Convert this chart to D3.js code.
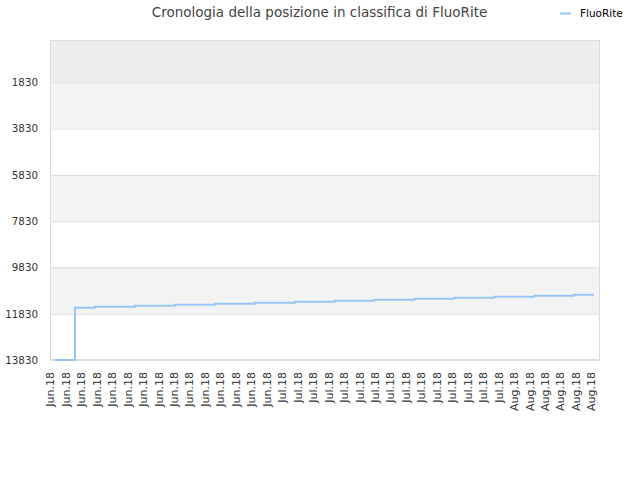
<!DOCTYPE html>
<html><head><meta charset="utf-8">
<script src="https://cdn.jsdelivr.net/npm/d3@7"></script>
<style>body{margin:0;background:#fff}svg{display:block}text{font-family:"DejaVu Sans",sans-serif}</style>
</head><body>
<script>
const title = "Cronologia della posizione in classifica di FluoRite";
const seriesName = "FluoRite";
const xLabels = [
  "Jun.18","Jun.18","Jun.18","Jun.18","Jun.18","Jun.18","Jun.18","Jun.18","Jun.18","Jun.18",
  "Jun.18","Jun.18","Jun.18","Jun.18","Jun.18",
  "Jul.18","Jul.18","Jul.18","Jul.18","Jul.18","Jul.18","Jul.18","Jul.18","Jul.18","Jul.18",
  "Jul.18","Jul.18","Jul.18","Jul.18","Jul.18",
  "Aug.18","Aug.18","Aug.18","Aug.18","Aug.18","Aug.18"
];
const yTicks = [1830, 3830, 5830, 7830, 9830, 11830, 13830];
const rankValues = [
  13830, 11570, 11527, 11527, 11484, 11484, 11441, 11441, 11398, 11398,
  11355, 11355, 11311, 11311, 11268, 11268, 11225, 11225, 11182, 11182,
  11139, 11139, 11096, 11096, 11052, 11052, 11009, 11009
];

const W = 640, H = 480;
const L = 50, R = 600, T = 40, B = 360;
const svg = d3.select("body").append("svg").attr("width", W).attr("height", H);

const y = d3.scaleLinear().domain([1, 13830]).range([T, B]);
const xData = d3.scaleLinear().domain([0, rankValues.length - 1]).range([55, 594]);
const xLab = d3.scalePoint().domain(d3.range(xLabels.length)).range([50, 591]);

// bands
const bandEdges = [T].concat(yTicks.map(v => y(v)));
for (let i = 0; i < bandEdges.length - 1; i++) {
  let fill = i === 0 ? "#eeeeee" : (i % 2 === 1 ? "#f3f3f3" : "#ffffff");
  svg.append("rect").attr("x", L).attr("y", bandEdges[i]).attr("width", R - L)
     .attr("height", bandEdges[i + 1] - bandEdges[i]).attr("fill", fill);
}
// grid lines
const yAxis = d3.axisLeft(y).tickValues(yTicks).tickSize(-(R - L)).tickPadding(12).tickFormat(d3.format("d"));
const gy = svg.append("g").attr("transform", `translate(${L},0)`).call(yAxis);
gy.select(".domain").remove();
gy.selectAll("line").attr("stroke", "#dcdcdc");
gy.selectAll("text").attr("fill", "#333").style("font-size", "10.3px");

// border
svg.append("rect").attr("x", L + 0.5).attr("y", T + 0.5).attr("width", R - L - 1).attr("height", B - T - 1)
   .attr("fill", "none").attr("stroke", "#dcdcdc");

// x labels
const xAxis = d3.axisBottom(xLab).tickSize(0).tickFormat(i => xLabels[i]);
const gx = svg.append("g").attr("transform", `translate(0,${B})`).call(xAxis);
gx.select(".domain").remove();
gx.selectAll("text").attr("transform", "rotate(-90)").attr("text-anchor", "end")
  .attr("x", -12).attr("y", 0).attr("dy", "0.35em").attr("fill", "#333").style("font-size", "11px");

// line
const line = d3.line().x((d, i) => xData(i)).y(d => y(d)).curve(d3.curveStepAfter);
svg.append("path").datum(rankValues).attr("d", line).attr("fill", "none")
   .attr("stroke", "#99c5f2").attr("stroke-width", 2);

// title
svg.append("text").attr("x", 319.5).attr("y", 16.5).attr("text-anchor", "middle")
   .attr("fill", "#444").style("font-size", "13.5px").text(title);
// legend
svg.append("line").attr("x1", 560).attr("x2", 571).attr("y1", 13.5).attr("y2", 13.5)
   .attr("stroke", "#99c5f2").attr("stroke-width", 2);
svg.append("text").attr("x", 580).attr("y", 17).attr("fill", "#000").style("font-size", "10.5px").text(seriesName);
</script>
</body></html>
